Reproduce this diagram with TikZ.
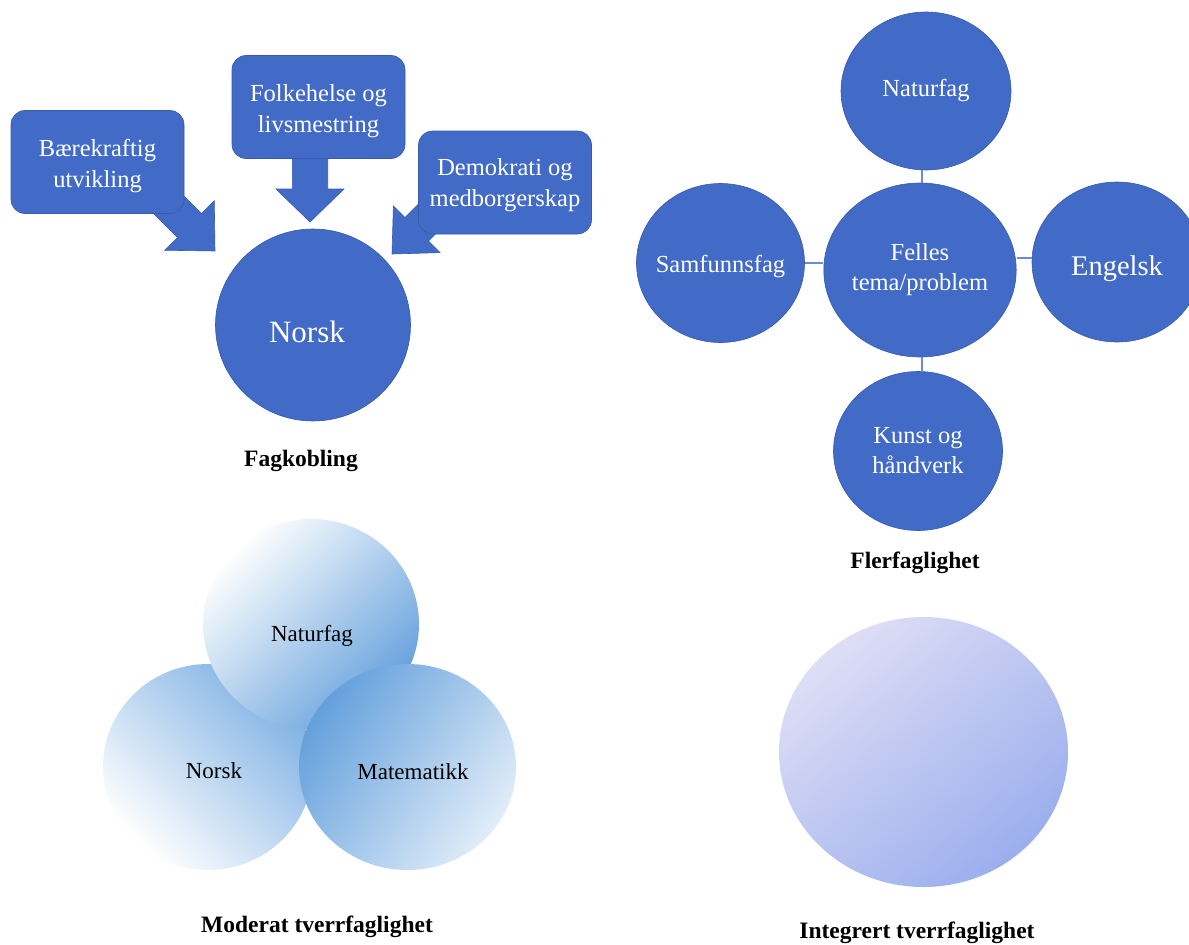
\documentclass[tikz,border=0pt]{standalone}
\usepackage{fontspec}
\setmainfont{Liberation Serif}
\usetikzlibrary{shapes.geometric,calc}
\definecolor{fillblue}{RGB}{66,106,199}
\definecolor{edgeblue}{RGB}{55,90,172}
\definecolor{connblue}{RGB}{105,140,214}
\definecolor{natblue}{RGB}{100,160,220}
\definecolor{norblue}{RGB}{125,176,228}
\definecolor{matblue}{RGB}{100,160,220}
\definecolor{matlight}{RGB}{225,237,249}
\definecolor{intlight}{RGB}{222,222,246}
\definecolor{intdark}{RGB}{155,174,237}
\tikzset{
  bluebox/.style={draw=edgeblue, line width=0.6pt, fill=fillblue, rounded corners=14pt,
    minimum width=173pt, minimum height=103pt, inner sep=0pt},
  wtext/.style={align=center, text=white, inner sep=0pt, font=\fontsize{24.5}{31}\selectfont},
  bluearrow/.style={draw=edgeblue, line width=0.6pt, fill=fillblue},
  bluecirc/.style={ellipse, draw=edgeblue, line width=0.6pt, fill=fillblue, inner sep=0pt,
    align=center, text=white, font=\fontsize{24.5}{30}\selectfont},
  softcirc/.style={ellipse, draw=none, inner sep=0pt},
  btext/.style={font=\fontsize{23}{28}\selectfont, text=black},
  conn/.style={draw=connblue, line width=1.4pt},
  caption/.style={font=\bfseries\fontsize{23.5}{28}\selectfont, text=black}
}
\begin{document}
\begin{tikzpicture}[x=1pt,y=-1pt]
\clip (0,0) rectangle (1189,945);
\fill[white] (0,0) rectangle (1189,945);

% ---------- Fagkobling ----------
% arrows (behind boxes)
\filldraw[bluearrow] (135.1,195.1) -- (177.5,237.5) -- (164.75,250.25) -- (215,251)
  -- (214.25,200.75) -- (201.5,213.5) -- (159.1,171.1) -- cycle;
\filldraw[bluearrow] (292.3,140) -- (292.3,189) -- (276,189) -- (310,222)
  -- (344,189) -- (327.7,189) -- (327.7,140) -- cycle;
\filldraw[bluearrow] (443.9,178.7) -- (405,217.6) -- (393.4,206) -- (392,254)
  -- (440,252.6) -- (428.4,241) -- (467.3,202.1) -- cycle;

\node[bluebox, label={[wtext, yshift=-4pt]center:Bærekraftig\\utvikling}] (baere) at (97.5,162) {};
\node[bluebox, label={[wtext, yshift=-4pt]center:Folkehelse og\\livsmestring}] (folke) at (318.5,107) {};
\node[bluebox, label={[wtext, yshift=-3pt]center:Demokrati og\\medborgerskap}] (demo) at (505,182.5) {};

\node[bluecirc, minimum width=195pt, minimum height=192pt,
  label={[wtext, font=\fontsize{31}{36}\selectfont, xshift=-6pt, yshift=-7pt]center:Norsk}] (norskbig) at (313,325) {};

\node[caption] (fagkob) at (301,461) {Fagkobling};

% ---------- Flerfaglighet ----------
\node[bluecirc, minimum width=170pt, minimum height=158pt] (natF) at (926,91) {Naturfag};
\node[bluecirc, minimum width=189pt, minimum height=174pt] (felles) at (920,270) {Felles\\tema/problem};
\node[bluecirc, minimum width=168pt, minimum height=159pt,
  label={[wtext, yshift=-4pt]center:Samfunnsfag}] (samf) at (720.5,263) {};
\node[bluecirc, minimum width=170pt, minimum height=160pt,
  label={[wtext, font=\fontsize{28.5}{34}\selectfont, yshift=-7pt]center:Engelsk}] (eng) at (1117,262) {};
\node[bluecirc, minimum width=169pt, minimum height=159pt] (kunst) at (918,451) {Kunst og\\håndverk};

\draw[conn] ($(felles.north)+(2,0)$) -- ($(felles.north |- natF.south)+(2,0)$);
\draw[conn] ($(felles.south)+(2,0)$) -- ($(felles.south |- kunst.north)+(2,0)$);
\draw[conn] (samf.east) -- (samf.east -| felles.west);
\draw[conn] ($(eng.west)+(0,-4)$) -- ($(eng.west -| felles.east)+(0,-4)$);

\node[caption] (flerf) at (915,563) {Flerfaglighet};

% ---------- Moderat tverrfaglighet ----------
\node[softcirc, minimum width=210pt, minimum height=206pt,
  top color=norblue, bottom color=white, shading angle=-45] (norskM) at (208,767) {};
\node[softcirc, minimum width=216pt, minimum height=210pt,
  top color=white, bottom color=natblue, shading angle=45] (natM) at (311,624) {};
\node[softcirc, minimum width=217pt, minimum height=206pt,
  top color=matblue, bottom color=matlight, shading angle=55] (matM) at (407.5,767) {};
\node[btext] (natMt) at (312,636) {Naturfag};
\node[btext] (norskMt) at (214,771) {Norsk};
\node[btext] (matMt) at (413,772) {Matematikk};

\node[caption] (moder) at (317,927) {Moderat tverrfaglighet};

% ---------- Integrert tverrfaglighet ----------
\node[softcirc, minimum width=289pt, minimum height=270pt,
  top color=intlight, bottom color=intdark, shading angle=40] (integ) at (923.5,752) {};
\node[caption] (integt) at (917,933) {Integrert tverrfaglighet};
\end{tikzpicture}
\end{document}
